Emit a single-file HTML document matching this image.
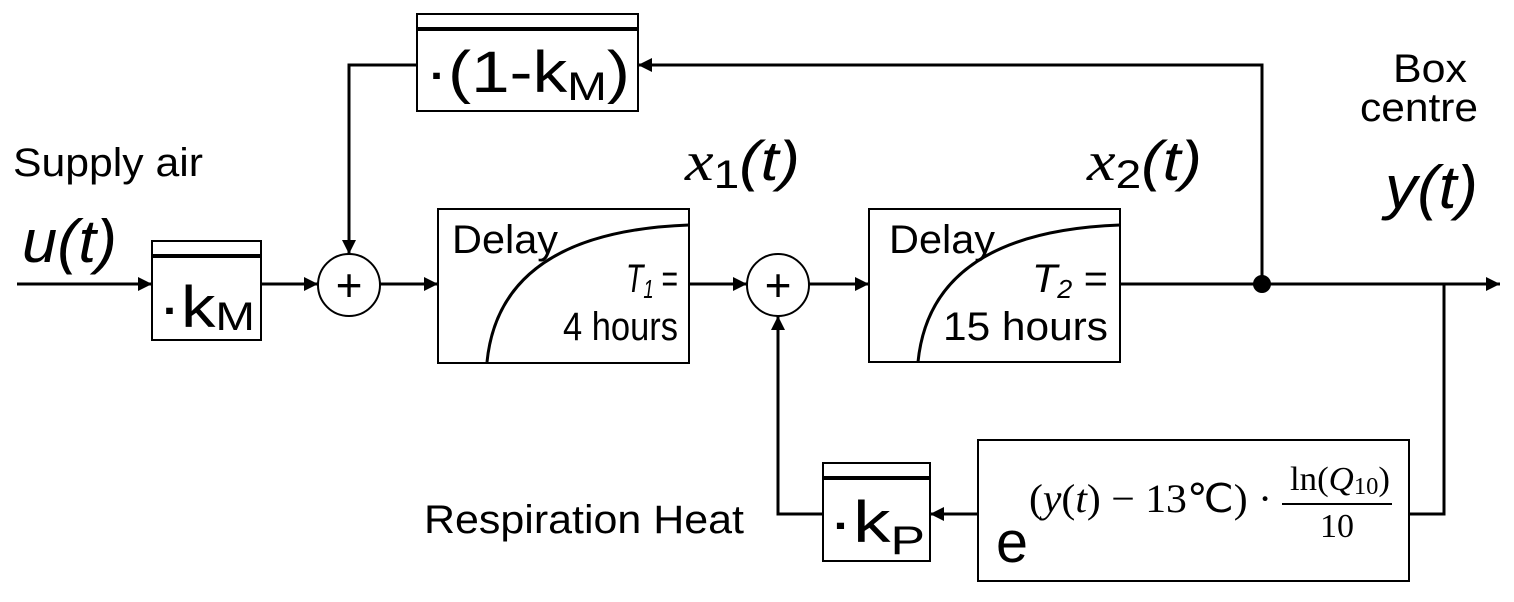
<!DOCTYPE html>
<html><head><style>
body{margin:0;background:#fff;width:1514px;height:597px;overflow:hidden}
svg text{font-family:"Liberation Sans",sans-serif;fill:#000}
svg text.s, svg tspan.s{font-family:"Liberation Serif",serif}
</style></head><body>
<svg width="1514" height="597" viewBox="0 0 1514 597" xmlns="http://www.w3.org/2000/svg">
<defs>
<marker id="b" viewBox="0 0 14 14" markerWidth="14" markerHeight="14" refX="14" refY="7" orient="auto" markerUnits="userSpaceOnUse"><path d="M0,0 L14,7 L0,14 z" fill="#000"/></marker></defs>
<g stroke="#000" stroke-width="3" fill="none">
<line x1="17" y1="284" x2="152" y2="284" marker-end="url(#b)"/>
<line x1="261" y1="284" x2="318" y2="284" marker-end="url(#b)"/>
<line x1="380" y1="284" x2="438" y2="284" marker-end="url(#b)"/>
<polyline points="417,65 349,65 349,254" marker-end="url(#b)"/>
<line x1="689" y1="284" x2="747" y2="284" marker-end="url(#b)"/>
<line x1="809" y1="284" x2="869" y2="284" marker-end="url(#b)"/>
<line x1="1120" y1="284" x2="1500" y2="284" marker-end="url(#b)"/>
<polyline points="1262,284 1262,65 638,65" marker-end="url(#b)"/>
<polyline points="1444,284 1444,514 1409,514"/>
<line x1="978" y1="514" x2="930" y2="514" marker-end="url(#b)"/>
<polyline points="823,514 778,514 778,316" marker-end="url(#b)"/>
<path d="M487,362 Q500,232 689,225"/>
<path d="M918,362 Q931,232 1120,225"/>
</g>
<g stroke="#000" stroke-width="2" fill="none">
<rect x="152" y="241" width="109" height="99"/>
<rect x="417" y="14" width="221" height="97"/>
<rect x="823" y="463" width="107" height="98"/>
<rect x="438" y="209" width="251" height="154"/>
<rect x="869" y="209" width="251" height="153"/>
<rect x="978" y="440" width="431" height="141"/>
<circle cx="349" cy="285" r="31"/>
<circle cx="778" cy="285" r="31"/>
</g>
<g stroke="#000" stroke-width="4">
<line x1="152" y1="256" x2="261" y2="256"/>
<line x1="417" y1="29" x2="638" y2="29"/>
<line x1="823" y1="478" x2="930" y2="478"/>
</g>
<circle cx="1262" cy="284" r="9" fill="#000"/>
<text x="349" y="301" font-size="46" text-anchor="middle">+</text>
<text x="778" y="301" font-size="46" text-anchor="middle">+</text>
<text x="158" y="327" font-size="58" textLength="97" lengthAdjust="spacingAndGlyphs">·k<tspan font-size="40" dy="3">M</tspan></text>
<text x="425" y="92" font-size="58" textLength="205" lengthAdjust="spacingAndGlyphs">·(1-k<tspan font-size="40" dy="8">M</tspan><tspan dy="-8">)</tspan></text>
<text x="828" y="542" font-size="58" textLength="97" lengthAdjust="spacingAndGlyphs">·k<tspan font-size="40" dy="12">P</tspan></text>
<text x="452" y="253" font-size="40" textLength="106" lengthAdjust="spacingAndGlyphs">Delay</text>
<text x="626" y="292" font-size="40" textLength="52" lengthAdjust="spacingAndGlyphs"><tspan font-style="italic">T<tspan font-size="26" dy="6">1</tspan></tspan><tspan dy="-6"> =</tspan></text>
<text x="563" y="340" font-size="40" textLength="115" lengthAdjust="spacingAndGlyphs">4 hours</text>
<text x="889" y="253" font-size="40" textLength="106" lengthAdjust="spacingAndGlyphs">Delay</text>
<text x="1032" y="292" font-size="40" textLength="76" lengthAdjust="spacingAndGlyphs"><tspan font-style="italic">T<tspan font-size="26" dy="6">2</tspan></tspan><tspan dy="-6"> =</tspan></text>
<text x="943" y="340" font-size="40" textLength="165" lengthAdjust="spacingAndGlyphs">15 hours</text>
<text x="13" y="176" font-size="40" textLength="190" lengthAdjust="spacingAndGlyphs">Supply air</text>
<text x="22" y="262" font-size="60" font-style="italic" textLength="95" lengthAdjust="spacingAndGlyphs">u(t)</text>
<text x="685" y="180" font-size="56" textLength="115" lengthAdjust="spacingAndGlyphs"><tspan class="s" font-style="italic">x</tspan><tspan font-size="40" dy="8">1</tspan><tspan dy="-8" font-style="italic">(t)</tspan></text>
<text x="1087" y="180" font-size="56" textLength="115" lengthAdjust="spacingAndGlyphs"><tspan class="s" font-style="italic">x</tspan><tspan font-size="40" dy="8">2</tspan><tspan dy="-8" font-style="italic">(t)</tspan></text>
<text x="1385" y="208" font-size="60" font-style="italic" textLength="93" lengthAdjust="spacingAndGlyphs">y(t)</text>
<text x="1393" y="82" font-size="40" textLength="74" lengthAdjust="spacingAndGlyphs">Box</text>
<text x="1360" y="121" font-size="40" textLength="118" lengthAdjust="spacingAndGlyphs">centre</text>
<text x="424" y="533" font-size="40" textLength="320" lengthAdjust="spacingAndGlyphs">Respiration Heat</text>
<text x="996" y="562" font-size="58" textLength="32" lengthAdjust="spacingAndGlyphs">e</text>
<text class="s" x="1029" y="512" font-size="40" textLength="243" lengthAdjust="spacingAndGlyphs">(<tspan font-style="italic">y</tspan>(<tspan font-style="italic">t</tspan>) − 13℃) ·</text>
<text class="s" x="1290" y="490" font-size="34" textLength="100" lengthAdjust="spacingAndGlyphs">ln(<tspan font-style="italic">Q</tspan><tspan font-size="24" dy="4">10</tspan><tspan dy="-4">)</tspan></text>
<line x1="1282" y1="504" x2="1392" y2="504" stroke="#000" stroke-width="2"/>
<text class="s" x="1337" y="537" font-size="34" text-anchor="middle">10</text>
</svg>
</body></html>
